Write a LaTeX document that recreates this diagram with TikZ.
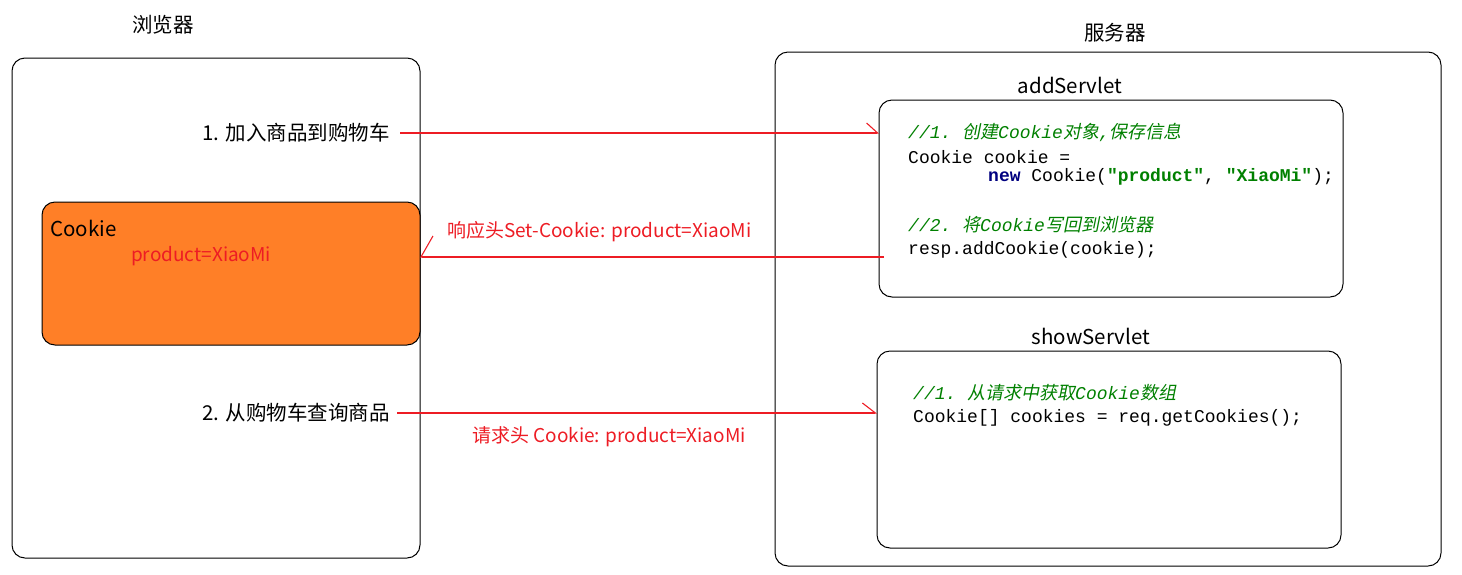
\documentclass[tikz,border=0pt]{standalone}
\usepackage{fontspec}
\setmainfont{Noto Sans CJK SC}
\setmonofont{Liberation Mono}
\newfontfamily\cjkit[FakeSlant=0.2]{Noto Sans CJK SC}
\usetikzlibrary{arrows.meta}
\definecolor{paintred}{RGB}{237,28,36}
\definecolor{cookieorange}{RGB}{255,127,39}
\definecolor{cmtgreen}{RGB}{0,128,0}
\definecolor{kwnavy}{RGB}{0,0,128}
\definecolor{strgreen}{RGB}{0,128,0}
\begin{document}
\begin{tikzpicture}[x=1pt,y=-1pt,
  box/.style={draw=black, line width=1pt, rounded corners=13pt, inner sep=0pt, outer sep=0pt, anchor=north west},
  lbl/.style={font=\fontsize{20.5}{24}\selectfont, inner sep=0pt, text=black},
  redlbl/.style={font=\fontsize{19}{22}\selectfont, inner sep=0pt, text=paintred},
  code/.style={font=\fontsize{18}{20}\selectfont\ttfamily, inner sep=0pt, anchor=west, text=black},
  cmt/.style={code, font=\fontsize{18}{20}\selectfont\ttfamily\itshape, text=cmtgreen},
  conn/.style={color=paintred, line width=1.1pt}
]
\useasboundingbox (0,0) rectangle (1462,574);

% browser side
\node[lbl] (browsertitle) at (163,25) {浏览器};
\node[box, minimum width=408pt, minimum height=500pt] (browser) at (12,58) {};
\node[box, fill=cookieorange, minimum width=378pt, minimum height=143pt] (cookiebox) at (42,202) {};
\node[lbl, anchor=west] (cookietitle) at (50,228) {Cookie};
\node[redlbl, anchor=west] (cookieval) at (131,256) {product=XiaoMi};
\node[lbl, anchor=east] (step1) at (390,133) {1. 加入商品到购物车};
\node[lbl, anchor=east] (step2) at (390,413) {2. 从购物车查询商品};

% server side
\node[lbl] (servertitle) at (1115,33) {服务器};
\node[box, minimum width=666pt, minimum height=514pt] (server) at (775,52) {};
\node[lbl] (addtitle) at (1070,85) {addServlet};
\node[box, minimum width=464pt, minimum height=197pt] (addbox) at (879,100) {};
\node[lbl] (showtitle) at (1091,336) {showServlet};
\node[box, minimum width=464pt, minimum height=197pt] (showbox) at (877,351) {};

% addServlet code
\node[cmt] (c1) at (908,132) {//1. {\cjkit 创建}Cookie{\cjkit 对象},{\cjkit 保存信息}};
\node[code] (c2) at (908,157) {Cookie cookie =};
\node[code] (c3) at (988,177) {\textbf{\color{kwnavy}new} Cookie(\textbf{\color{strgreen}"product"}, \textbf{\color{strgreen}"XiaoMi"});};
\node[cmt] (c4) at (908,225) {//2. {\cjkit 将}Cookie{\cjkit 写回到浏览器}};
\node[code] (c5) at (908,250) {resp.addCookie(cookie);};

% showServlet code
\node[cmt] (s1) at (913,393) {//1. {\cjkit 从请求中获取}Cookie{\cjkit 数组}};
\node[code] (s2) at (913,418) {Cookie[] cookies = req.getCookies();};

% connectors
\coordinate (a1s) at (400,133);
\coordinate (a2s) at (884,257);
\coordinate (a3s) at (397,413);
\draw[conn, -{Straight Barb[left, length=11pt, width=20pt]}] (a1s) -- (addbox.west |- a1s);
\draw[conn, -{Straight Barb[right, length=12pt, width=42pt]}] (a2s) -- (cookiebox.east |- a2s);
\draw[conn, -{Straight Barb[left, length=13pt, width=20pt]}] (a3s) -- (showbox.west |- a3s);
\node[redlbl, anchor=west] (resplbl) at (447,232) {响应头Set-Cookie: product=XiaoMi};
\node[redlbl, anchor=west] (reqlbl) at (472,437) {请求头 Cookie: product=XiaoMi};
\end{tikzpicture}
\end{document}
